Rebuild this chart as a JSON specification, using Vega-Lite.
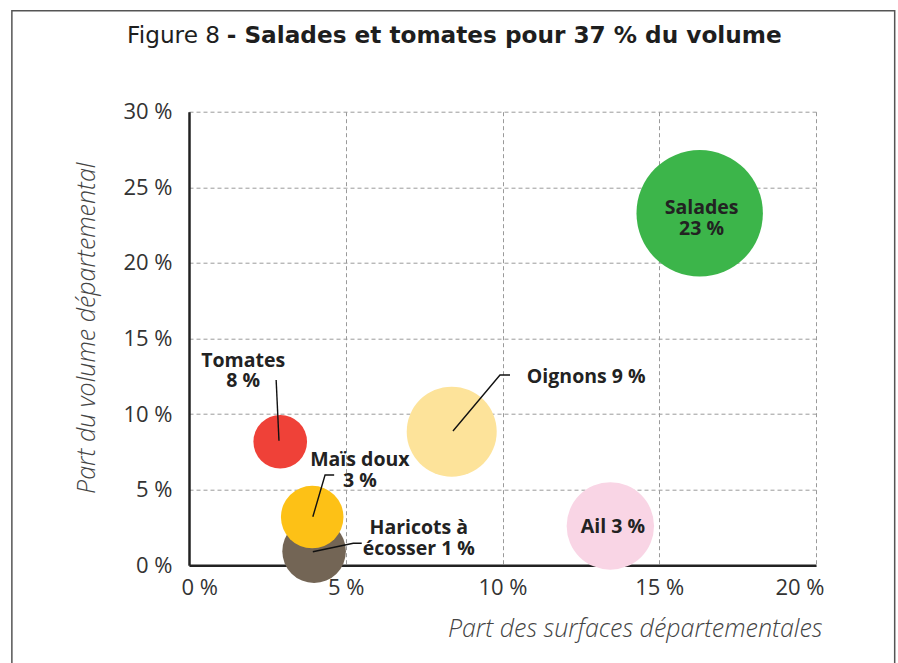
{
  "$schema": "https://vega.github.io/schema/vega-lite/v6.json",
  "width": 627,
  "height": 453.6,
  "autosize": {"type": "none"},
  "padding": {"left": 189, "top": 111.7, "right": 82, "bottom": 97.7},
  "background": "white",
  "title": {
    "text": "- Salades et tomates pour 37 % du volume",
    "anchor": "start",
    "frame": "group",
    "dx": 37.7,
    "font": "DejaVu Sans",
    "fontSize": 23.2,
    "fontWeight": "bold",
    "color": "#1e1e1e",
    "baseline": "alphabetic",
    "offset": -56.5
  },
  "config": {
    "view": {"stroke": null},
    "axis": {
      "grid": true,
      "gridDash": [4, 3],
      "gridColor": "#9a9a9a",
      "gridWidth": 1,
      "domainColor": "#222222",
      "domainWidth": 2.5,
      "ticks": false,
      "labelFont": "Open Sans",
      "labelFontSize": 22,
      "labelColor": "#333333",
      "titleFont": "Open Sans",
      "titleFontStyle": "italic",
      "titleFontWeight": 300,
      "titleFontSize": 25,
      "titleColor": "#444444"
    }
  },
  "datasets": {
    "bulles": [
      {"produit": "Haricots à écosser", "surface": 3.99, "volume": 0.93, "poids": 25.3},
      {"produit": "Maïs doux", "surface": 3.93, "volume": 3.19, "poids": 24.5},
      {"produit": "Tomates", "surface": 2.91, "volume": 8.17, "poids": 18.0},
      {"produit": "Oignons", "surface": 8.38, "volume": 8.84, "poids": 50.7},
      {"produit": "Ail", "surface": 13.44, "volume": 2.6, "poids": 47.8},
      {"produit": "Salades", "surface": 16.29, "volume": 23.28, "poids": 100}
    ],
    "etiquettes": [
      {"produit": "Salades", "texte": "Salades\n23 %", "lx": 16.35, "ly": 23.61},
      {"produit": "Tomates", "texte": "Tomates\n8 %", "lx": 1.73, "ly": 13.53},
      {"produit": "Maïs doux", "texte": "Maïs doux\n3 %", "lx": 5.45, "ly": 6.96},
      {"produit": "Haricots à écosser", "texte": "Haricots à\nécosser 1 %", "lx": 7.33, "ly": 2.45},
      {"produit": "Oignons", "texte": "Oignons 9 %", "lx": 12.67, "ly": 12.47},
      {"produit": "Ail", "texte": "Ail 3 %", "lx": 13.52, "ly": 2.55}
    ],
    "reperes": [
      {"groupe": "Tomates", "ordre": 1, "rx": 2.87, "ry": 8.24},
      {"groupe": "Tomates", "ordre": 2, "rx": 2.78, "ry": 12.25},
      {"groupe": "Maïs doux", "ordre": 1, "rx": 3.95, "ry": 3.21},
      {"groupe": "Maïs doux", "ordre": 2, "rx": 4.34, "ry": 5.97},
      {"groupe": "Maïs doux", "ordre": 3, "rx": 4.63, "ry": 5.97},
      {"groupe": "Haricots à écosser", "ordre": 1, "rx": 3.95, "ry": 0.9},
      {"groupe": "Haricots à écosser", "ordre": 2, "rx": 5.24, "ry": 1.46},
      {"groupe": "Haricots à écosser", "ordre": 3, "rx": 5.51, "ry": 1.46},
      {"groupe": "Oignons", "ordre": 1, "rx": 8.42, "ry": 8.88},
      {"groupe": "Oignons", "ordre": 2, "rx": 9.92, "ry": 12.59},
      {"groupe": "Oignons", "ordre": 3, "rx": 10.24, "ry": 12.59}
    ]
  },
  "layer": [
    {
      "data": {"values": [{"cadre": "Figure"}]},
      "mark": {"type": "rect", "fill": null, "stroke": "#555555", "strokeWidth": 1.5, "clip": false},
      "encoding": {
        "x": {"datum": -5.65, "type": "quantitative"},
        "x2": {"datum": 22.51},
        "y": {"datum": 36.68, "type": "quantitative"},
        "y2": {"datum": -12}
      }
    },
    {
      "data": {"name": "bulles"},
      "mark": {"type": "circle", "opacity": 1, "strokeWidth": 0},
      "encoding": {
        "x": {
          "field": "surface",
          "type": "quantitative",
          "scale": {"domain": [0, 20], "nice": false, "zero": true},
          "axis": {
            "values": [0, 5, 10, 15, 20],
            "labelExpr": "datum.value + ' %'",
            "labelPadding": 12,
            "labelFlush": true,
            "labelFlushOffset": 8,
            "title": "Part des surfaces départementales",
            "titleAnchor": "end",
            "titleAlign": "right",
            "titleX": 633,
            "titleY": 63,
            "titleBaseline": "middle"
          }
        },
        "y": {
          "field": "volume",
          "type": "quantitative",
          "scale": {"domain": [0, 30], "nice": false, "zero": true},
          "axis": {
            "values": [0, 5, 10, 15, 20, 25, 30],
            "labelExpr": "datum.value + ' %'",
            "labelPadding": 17,
            "title": "Part du volume départemental",
            "titleAlign": "center",
            "titleBaseline": "middle",
            "titleAngle": 270,
            "titleX": -103,
            "titleY": 216
          }
        },
        "size": {
          "field": "poids",
          "type": "quantitative",
          "scale": {"domain": [0, 100], "range": [0, 15977], "zero": true},
          "legend": null
        },
        "color": {
          "field": "produit",
          "type": "nominal",
          "scale": {
            "domain": ["Salades", "Tomates", "Maïs doux", "Haricots à écosser", "Oignons", "Ail"],
            "range": ["#3cb54a", "#ef4138", "#fdc116", "#736555", "#fde39a", "#f9d5e5"]
          },
          "legend": null
        }
      }
    },
    {
      "data": {"name": "reperes"},
      "mark": {"type": "line", "color": "#111111", "strokeWidth": 1.4},
      "encoding": {
        "x": {"field": "rx", "type": "quantitative"},
        "y": {"field": "ry", "type": "quantitative"},
        "detail": {"field": "groupe"},
        "order": {"field": "ordre", "type": "quantitative"}
      }
    },
    {
      "data": {"name": "etiquettes"},
      "mark": {
        "type": "text",
        "font": "Open Sans",
        "fontSize": 19.5,
        "fontWeight": "bold",
        "color": "#222222",
        "align": "center",
        "baseline": "middle",
        "lineBreak": "\n",
        "lineHeight": 20.5
      },
      "encoding": {
        "x": {"field": "lx", "type": "quantitative"},
        "y": {"field": "ly", "type": "quantitative"},
        "text": {"field": "texte"}
      }
    },
    {
      "data": {"values": [{"libelle": "Figure 8"}]},
      "mark": {
        "type": "text",
        "font": "DejaVu Sans",
        "fontSize": 23.2,
        "color": "#1e1e1e",
        "align": "right",
        "baseline": "alphabetic",
        "clip": false
      },
      "encoding": {
        "x": {"datum": 0.99, "type": "quantitative"},
        "y": {"datum": 34.52, "type": "quantitative"},
        "text": {"field": "libelle"}
      }
    }
  ]
}
